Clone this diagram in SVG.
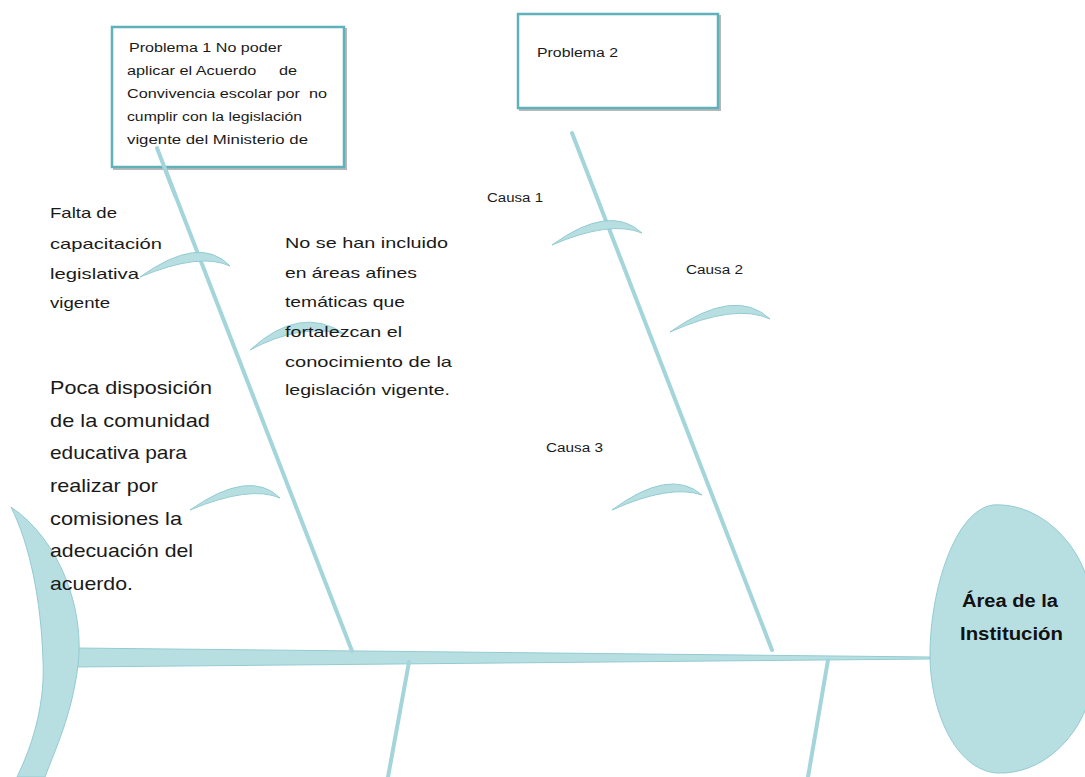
<svg xmlns="http://www.w3.org/2000/svg" width="1085" height="777" viewBox="0 0 1085 777">
<style>
.bx{fill:#fff;stroke:#5fb1ba;stroke-width:2.5}
.sh{fill:none;stroke:#9a9a9a;stroke-width:2;opacity:.7}
.bone{stroke:#a3d5da;stroke-width:4;stroke-linecap:round;fill:none}
.shape{fill:#b7dfe2;stroke:#93cbd1;stroke-width:1}
.t{font-family:"Liberation Sans",Arial,sans-serif;fill:#1a1a1a}
.s12{font-size:12.5px}
.s15{font-size:15px}
.s19{font-size:19px}
.hd{font-family:"Liberation Sans",Arial,sans-serif;font-size:18px;font-weight:bold;fill:#111}
</style>
<rect width="1085" height="777" fill="#fff"/>
<g id="connectors">
<path class="shape" d="M75,648 L930,657 L930,659 L75,667 Z"/>
<line class="bone" x1="157" y1="148" x2="352" y2="651"/>
<line class="bone" x1="572" y1="133" x2="772" y2="650"/>
<line class="bone" x1="409" y1="662" x2="388" y2="777"/>
<line class="bone" x1="828" y1="660" x2="808" y2="777"/>
<path class="shape" d="M140,277 Q200,234 230,266 Q200,252 140,277 Z"/>
<path class="shape" d="M250,350 Q300,304 345,334 Q300,323 250,350 Z"/>
<path class="shape" d="M190,510 Q250,468 280,498 Q250,485 190,510 Z"/>
<path class="shape" d="M552,245 Q610,203 642,233 Q610,220 552,245 Z"/>
<path class="shape" d="M670,332 Q735,286 770,319 Q735,303 670,332 Z"/>
<path class="shape" d="M612,510 Q670,467 702,495 Q670,484 612,510 Z"/>
</g>
<g id="tail">
<path class="shape" d="M11,507 C60,540 85,610 78,665 C72,715 55,750 45,777 L17,777 C35,740 45,700 43,660 C41,600 30,545 11,507 Z"/>
</g>
<g id="head">
<path class="shape" d="M993,505 C1040,502 1085,545 1092,600 L1092,690 C1080,740 1040,775 997,773 C955,770 930,710 930,655 C930,590 955,510 993,505 Z"/>
<text class="hd" x="962" y="607" textLength="96" lengthAdjust="spacingAndGlyphs">Área de la</text>
<text class="hd" x="960" y="640" textLength="103" lengthAdjust="spacingAndGlyphs">Institución</text>
</g>
<g id="problema1">
<rect class="sh" x="114" y="29" width="232" height="140"/>
<rect class="bx" x="112" y="27" width="232" height="140"/>
<g class="t s12">
<text x="129" y="52" textLength="153" lengthAdjust="spacingAndGlyphs">Problema 1 No poder</text>
<text x="127" y="75" textLength="170" lengthAdjust="spacingAndGlyphs" xml:space="preserve">aplicar el Acuerdo     de</text>
<text x="127" y="98" textLength="200" lengthAdjust="spacingAndGlyphs" xml:space="preserve">Convivencia escolar por  no</text>
<text x="127" y="121" textLength="175" lengthAdjust="spacingAndGlyphs">cumplir con la legislación</text>
<text x="127" y="144" textLength="181" lengthAdjust="spacingAndGlyphs">vigente del Ministerio de</text>
</g>
</g>
<line class="bone" x1="157" y1="148" x2="175" y2="195"/>
<g id="problema2">
<rect class="sh" x="520" y="16" width="200" height="94"/>
<rect class="bx" x="518" y="14" width="200" height="94"/>
<text class="t s12" x="537" y="57" textLength="81" lengthAdjust="spacingAndGlyphs">Problema 2</text>
</g>
<g id="causas" class="t s12">
<text x="487" y="202" textLength="56" lengthAdjust="spacingAndGlyphs">Causa 1</text>
<text x="686" y="274" textLength="57" lengthAdjust="spacingAndGlyphs">Causa 2</text>
<text x="546" y="452" textLength="57" lengthAdjust="spacingAndGlyphs">Causa 3</text>
</g>
<g id="falta" class="t s15">
<text x="50" y="218" textLength="67" lengthAdjust="spacingAndGlyphs">Falta de</text>
<text x="50" y="249" textLength="112" lengthAdjust="spacingAndGlyphs">capacitación</text>
<text x="50" y="279" textLength="89" lengthAdjust="spacingAndGlyphs">legislativa</text>
<text x="50" y="308" textLength="60" lengthAdjust="spacingAndGlyphs">vigente</text>
</g>
<g id="noincluido" class="t s15">
<text x="285" y="248" textLength="163" lengthAdjust="spacingAndGlyphs">No se han incluido</text>
<text x="285" y="278" textLength="132" lengthAdjust="spacingAndGlyphs">en áreas afines</text>
<text x="285" y="307" textLength="120" lengthAdjust="spacingAndGlyphs">temáticas que</text>
<text x="285" y="337" textLength="117" lengthAdjust="spacingAndGlyphs">fortalezcan el</text>
<text x="285" y="367" textLength="167" lengthAdjust="spacingAndGlyphs">conocimiento de la</text>
<text x="285" y="395" textLength="165" lengthAdjust="spacingAndGlyphs">legislación vigente.</text>
</g>
<g id="poca" class="t s19">
<text x="50" y="394" textLength="162" lengthAdjust="spacingAndGlyphs">Poca disposición</text>
<text x="50" y="427" textLength="160" lengthAdjust="spacingAndGlyphs">de la comunidad</text>
<text x="50" y="459" textLength="137" lengthAdjust="spacingAndGlyphs">educativa para</text>
<text x="50" y="492" textLength="108" lengthAdjust="spacingAndGlyphs">realizar por</text>
<text x="50" y="525" textLength="132" lengthAdjust="spacingAndGlyphs">comisiones la</text>
<text x="50" y="557" textLength="143" lengthAdjust="spacingAndGlyphs">adecuación del</text>
<text x="50" y="590" textLength="83" lengthAdjust="spacingAndGlyphs">acuerdo.</text>
</g>
</svg>
